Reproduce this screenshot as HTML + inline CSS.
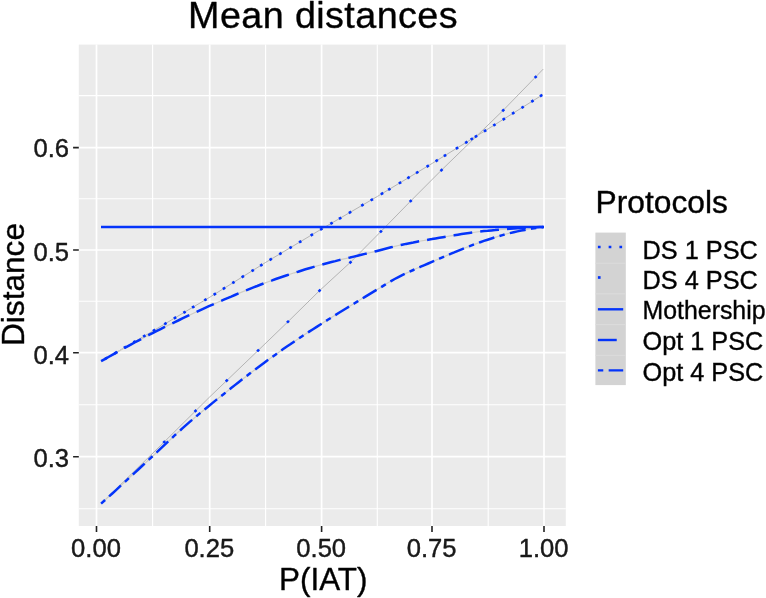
<!DOCTYPE html>
<html><head><meta charset="utf-8"><title>Mean distances</title>
<style>html,body{margin:0;padding:0;background:#fff}svg{display:block}</style></head>
<body>
<svg width="766" height="598" viewBox="0 0 766 598" font-family="Liberation Sans, Arial, sans-serif">
<rect width="766" height="598" fill="#fff"/>
<rect x="78.8" y="44.6" width="487.0" height="481.4" fill="#ebebeb"/>
<path d="M152.6 44.6V526.0M265.6 44.6V526.0M377.3 44.6V526.0M488.2 44.6V526.0M78.8 508.7H565.8M78.8 404.7H565.8M78.8 301.3H565.8M78.8 198.8H565.8M78.8 95.6H565.8" stroke="#fff" stroke-width="1.1" fill="none"/>
<path d="M96.5 44.6V526.0M209.7 44.6V526.0M321.6 44.6V526.0M432.0 44.6V526.0M544.0 44.6V526.0M78.8 456.7H565.8M78.8 352.7H565.8M78.8 250.0H565.8M78.8 147.6H565.8" stroke="#fff" stroke-width="1.7" fill="none"/>
<path d="M101.0 361.3L152.6 331.2L210.1 297.0L265.7 262.4L322.1 228.7L377.6 196.3L432.7 163.1L488.1 128.9L543.0 94.5" stroke="#b4b4b4" stroke-width="1" fill="none"/>
<path d="M101.2 503.6L164.2 442.0L209.4 397.2L258.1 350.5L287.9 321.8L319.6 290.6L350.4 262.3L380.9 231.5L410.7 201.0L441.5 170.1L503.2 110.3L535.6 77.0L543.2 69.1" stroke="#b4b4b4" stroke-width="1" fill="none"/>
<path d="M101.1 361.2L104.8 359.1L108.5 357.0L112.3 354.9L116.0 352.8L119.7 350.7L123.4 348.6L127.1 346.6L130.8 344.6L134.6 342.5L138.3 340.6L142.0 338.6L145.7 336.7L149.4 334.7L153.1 332.8L156.9 330.9L160.6 329.1L164.3 327.2L168.0 325.4L171.7 323.6L175.4 321.8L179.2 320.0L182.9 318.2L186.6 316.4L190.3 314.7L194.0 313.0L197.7 311.3L201.5 309.6L205.2 307.9L208.9 306.2L212.6 304.6L216.3 303.0L220.0 301.3L223.8 299.7L227.5 298.1L231.2 296.6L234.9 295.0L238.6 293.4L242.3 291.9L246.1 290.4L249.8 288.9L253.5 287.4L257.2 286.0L260.9 284.5L264.6 283.1L268.4 281.7L272.1 280.4L275.8 279.0L279.5 277.7L283.2 276.5L286.9 275.3L290.7 274.0L294.4 272.8L298.1 271.7L301.8 270.5L305.5 269.3L309.2 268.2L313.0 267.1L316.7 266.0L320.4 265.0L324.1 264.0L327.8 263.0L331.5 262.0L335.3 261.1L339.0 260.1L342.7 259.2L346.4 258.3L350.1 257.5L353.8 256.6L357.6 255.7L361.3 254.8L365.0 253.9L368.7 253.0L372.4 252.1L376.1 251.2L379.9 250.2L383.6 249.2L387.3 248.2L391.0 247.3L394.7 246.4L398.4 245.5L402.2 244.7L405.9 243.9L409.6 243.2L413.3 242.5L417.0 241.7L420.7 241.0L424.5 240.4L428.2 239.7L431.9 239.1L435.6 238.4L439.3 237.8L443.0 237.2L446.8 236.5L450.5 235.9L454.2 235.3L457.9 234.7L461.6 234.1L465.3 233.5L469.1 233.0L472.8 232.5L476.5 232.0L480.2 231.5L483.9 231.1L487.6 230.8L491.4 230.4L495.1 230.1L498.8 229.7L502.5 229.4L506.2 229.1L509.9 228.8L513.7 228.6L517.4 228.3L521.1 228.0L524.8 227.8L528.5 227.6L532.2 227.4L536.0 227.3L539.7 227.1L543.4 227.0" stroke="#cfcdc4" stroke-width="1.2" fill="none"/>
<path d="M101.1 503.6L104.8 500.3L108.5 496.9L112.3 493.5L116.0 490.1L119.7 486.6L123.4 483.2L127.1 479.8L130.8 476.4L134.6 472.9L138.3 469.5L142.0 466.0L145.7 462.6L149.4 459.2L153.1 455.7L156.9 452.2L160.6 448.7L164.3 445.2L168.0 441.7L171.7 438.2L175.4 434.7L179.2 431.3L182.9 427.9L186.6 424.6L190.3 421.4L194.0 418.3L197.7 415.1L201.5 412.0L205.2 409.0L208.9 406.0L212.6 402.9L216.3 399.9L220.0 396.9L223.8 394.0L227.5 391.0L231.2 388.1L234.9 385.1L238.6 382.2L242.3 379.3L246.1 376.5L249.8 373.6L253.5 370.8L257.2 368.0L260.9 365.2L264.6 362.5L268.4 359.7L272.1 357.0L275.8 354.4L279.5 351.7L283.2 349.1L286.9 346.5L290.7 344.0L294.4 341.4L298.1 338.9L301.8 336.5L305.5 334.0L309.2 331.6L313.0 329.2L316.7 326.9L320.4 324.5L324.1 322.1L327.8 319.8L331.5 317.5L335.3 315.1L339.0 312.8L342.7 310.5L346.4 308.2L350.1 306.0L353.8 303.7L357.6 301.4L361.3 299.1L365.0 296.9L368.7 294.6L372.4 292.4L376.1 290.1L379.9 287.9L383.6 285.6L387.3 283.3L391.0 281.1L394.7 279.0L398.4 277.1L402.2 275.2L405.9 273.4L409.6 271.7L413.3 270.0L417.0 268.3L420.7 266.7L424.5 265.1L428.2 263.5L431.9 261.9L435.6 260.3L439.3 258.7L443.0 257.1L446.8 255.5L450.5 253.9L454.2 252.4L457.9 250.8L461.6 249.3L465.3 247.8L469.1 246.4L472.8 244.9L476.5 243.6L480.2 242.2L483.9 240.9L487.6 239.7L491.4 238.5L495.1 237.3L498.8 236.2L502.5 235.1L506.2 234.0L509.9 233.1L513.7 232.2L517.4 231.4L521.1 230.6L524.8 229.9L528.5 229.2L532.2 228.6L536.0 228.0L539.7 227.5L543.4 227.0" stroke="#cfcdc4" stroke-width="1.2" fill="none"/>
<path d="M104.83 359.06L107.17 357.70M114.33 353.52L116.67 352.16M123.83 347.98L126.17 346.62M133.33 342.44L135.67 341.08M143.13 336.72L145.47 335.36M152.84 331.06L155.16 329.68M164.24 324.28L166.56 322.90M173.84 318.57L176.16 317.19M183.34 312.92L185.66 311.54M192.04 307.74L194.36 306.36M204.24 300.49L206.56 299.11M213.65 294.79L215.95 293.36M222.85 289.06L225.15 287.64M232.25 283.21L234.55 281.79M241.65 277.36L243.95 275.94M251.55 271.20L253.85 269.78M260.15 265.85L262.45 264.42M269.54 260.10L271.86 258.72M279.24 254.31L281.56 252.92M289.44 248.21L291.76 246.83M299.04 242.48L301.36 241.09M310.64 235.55L312.96 234.16M320.14 229.87L322.46 228.49M330.33 223.89L332.67 222.53M338.93 218.87L341.27 217.51M348.83 213.09L351.17 211.73M361.23 205.85L363.57 204.49M370.63 200.37L372.97 199.01M380.84 194.35L383.16 192.95M388.14 189.95L390.46 188.55M398.84 183.50L401.16 182.11M407.34 178.38L409.66 176.98M416.04 173.14L418.36 171.74M426.54 166.81L428.86 165.42M435.55 161.34L437.85 159.92M443.85 156.22L446.15 154.80M455.85 148.81L458.15 147.39M465.15 143.07L467.45 141.65M470.65 139.67L472.95 138.25M474.85 137.08L477.15 135.66M483.95 131.46L486.25 130.04M493.26 125.67L495.54 124.24M502.66 119.78L504.94 118.35M512.06 113.89L514.34 112.46M521.46 108.00L523.74 106.57M531.26 101.86L533.54 100.43M539.96 96.41L542.24 94.97" stroke="#0434FA" stroke-width="2.6" fill="none"/>
<path d="M163.23 442.94L165.17 441.06M194.54 411.93L196.46 410.03M225.78 381.50L227.72 379.63M257.13 351.43L259.07 349.57M286.98 322.69L288.92 320.81M318.59 291.60L320.51 289.70M349.46 263.21L351.44 261.39M379.95 232.46L381.85 230.54M409.76 201.97L411.64 200.03M440.55 171.06L442.45 169.14M502.23 111.24L504.17 109.36M534.71 77.97L536.59 76.03" stroke="#0434FA" stroke-width="2.6" fill="none"/>
<path d="M101 227.0H544" stroke="#0434FA" stroke-width="2.4" fill="none"/>
<path d="M101.1 361.2L104.8 359.1L108.5 357.0L112.3 354.9L116.0 352.8L119.7 350.7L123.4 348.6L127.1 346.6L130.8 344.6L134.6 342.5L138.3 340.6L142.0 338.6L145.7 336.7L149.4 334.7L153.1 332.8L156.9 330.9L160.6 329.1L164.3 327.2L168.0 325.4L171.7 323.6L175.4 321.8L179.2 320.0L182.9 318.2L186.6 316.4L190.3 314.7L194.0 313.0L197.7 311.3L201.5 309.6L205.2 307.9L208.9 306.2L212.6 304.6L216.3 303.0L220.0 301.3L223.8 299.7L227.5 298.1L231.2 296.6L234.9 295.0L238.6 293.4L242.3 291.9L246.1 290.4L249.8 288.9L253.5 287.4L257.2 286.0L260.9 284.5L264.6 283.1L268.4 281.7L272.1 280.4L275.8 279.0L279.5 277.7L283.2 276.5L286.9 275.3L290.7 274.0L294.4 272.8L298.1 271.7L301.8 270.5L305.5 269.3L309.2 268.2L313.0 267.1L316.7 266.0L320.4 265.0L324.1 264.0L327.8 263.0L331.5 262.0L335.3 261.1L339.0 260.1L342.7 259.2L346.4 258.3L350.1 257.5L353.8 256.6L357.6 255.7L361.3 254.8L365.0 253.9L368.7 253.0L372.4 252.1L376.1 251.2L379.9 250.2L383.6 249.2L387.3 248.2L391.0 247.3L394.7 246.4L398.4 245.5L402.2 244.7L405.9 243.9L409.6 243.2L413.3 242.5L417.0 241.7L420.7 241.0L424.5 240.4L428.2 239.7L431.9 239.1L435.6 238.4L439.3 237.8L443.0 237.2L446.8 236.5L450.5 235.9L454.2 235.3L457.9 234.7L461.6 234.1L465.3 233.5L469.1 233.0L472.8 232.5L476.5 232.0L480.2 231.5L483.9 231.1L487.6 230.8L491.4 230.4L495.1 230.1L498.8 229.7L502.5 229.4L506.2 229.1L509.9 228.8L513.7 228.6L517.4 228.3L521.1 228.0L524.8 227.8L528.5 227.6L532.2 227.4L536.0 227.3L539.7 227.1L543.4 227.0" stroke="#0434FA" stroke-width="2.5" stroke-dasharray="18.83 8.07" fill="none"/>
<path d="M101.1 503.6L104.8 500.3L108.5 496.9L112.3 493.5L116.0 490.1L119.7 486.6L123.4 483.2L127.1 479.8L130.8 476.4L134.6 472.9L138.3 469.5L142.0 466.0L145.7 462.6L149.4 459.2L153.1 455.7L156.9 452.2L160.6 448.7L164.3 445.2L168.0 441.7L171.7 438.2L175.4 434.7L179.2 431.3L182.9 427.9L186.6 424.6L190.3 421.4L194.0 418.3L197.7 415.1L201.5 412.0L205.2 409.0L208.9 406.0L212.6 402.9L216.3 399.9L220.0 396.9L223.8 394.0L227.5 391.0L231.2 388.1L234.9 385.1L238.6 382.2L242.3 379.3L246.1 376.5L249.8 373.6L253.5 370.8L257.2 368.0L260.9 365.2L264.6 362.5L268.4 359.7L272.1 357.0L275.8 354.4L279.5 351.7L283.2 349.1L286.9 346.5L290.7 344.0L294.4 341.4L298.1 338.9L301.8 336.5L305.5 334.0L309.2 331.6L313.0 329.2L316.7 326.9L320.4 324.5L324.1 322.1L327.8 319.8L331.5 317.5L335.3 315.1L339.0 312.8L342.7 310.5L346.4 308.2L350.1 306.0L353.8 303.7L357.6 301.4L361.3 299.1L365.0 296.9L368.7 294.6L372.4 292.4L376.1 290.1L379.9 287.9L383.6 285.6L387.3 283.3L391.0 281.1L394.7 279.0L398.4 277.1L402.2 275.2L405.9 273.4L409.6 271.7L413.3 270.0L417.0 268.3L420.7 266.7L424.5 265.1L428.2 263.5L431.9 261.9L435.6 260.3L439.3 258.7L443.0 257.1L446.8 255.5L450.5 253.9L454.2 252.4L457.9 250.8L461.6 249.3L465.3 247.8L469.1 246.4L472.8 244.9L476.5 243.6L480.2 242.2L483.9 240.9L487.6 239.7L491.4 238.5L495.1 237.3L498.8 236.2L502.5 235.1L506.2 234.0L509.9 233.1L513.7 232.2L517.4 231.4L521.1 230.6L524.8 229.9L528.5 229.2L532.2 228.6L536.0 228.0L539.7 227.5L543.4 227.0" stroke="#0434FA" stroke-width="2.5" stroke-dasharray="5.38 5.38 16.14 5.38" fill="none"/>
<path d="M73.1 456.7H78.8M73.1 352.7H78.8M73.1 250.0H78.8M73.1 147.6H78.8M96.5 526.0V531.9M209.7 526.0V531.9M321.6 526.0V531.9M432.0 526.0V531.9M544.0 526.0V531.9" stroke="#222" stroke-width="1.6" fill="none"/>
<g stroke="#111" stroke-width="0.4" stroke-linejoin="round">
<text x="69" y="466.5" font-size="25.6" text-anchor="end" fill="#1a1a1a">0.3</text>
<text x="69" y="363.8" font-size="25.6" text-anchor="end" fill="#1a1a1a">0.4</text>
<text x="69" y="261.0" font-size="25.6" text-anchor="end" fill="#1a1a1a">0.5</text>
<text x="69" y="156.8" font-size="25.6" text-anchor="end" fill="#1a1a1a">0.6</text>
<text x="96.0" y="556.8" font-size="25.6" text-anchor="middle" fill="#1a1a1a">0.00</text>
<text x="209.3" y="556.8" font-size="25.6" text-anchor="middle" fill="#1a1a1a">0.25</text>
<text x="321.2" y="556.8" font-size="25.6" text-anchor="middle" fill="#1a1a1a">0.50</text>
<text x="431.6" y="556.8" font-size="25.6" text-anchor="middle" fill="#1a1a1a">0.75</text>
<text x="543.6" y="556.8" font-size="25.6" text-anchor="middle" fill="#1a1a1a">1.00</text>
<text x="323.0" y="28.1" font-size="37.7" letter-spacing="0.42" text-anchor="middle" fill="#000">Mean distances</text>
<text x="323.3" y="590.3" font-size="31.4" text-anchor="middle" fill="#000">P(IAT)</text>
<text transform="translate(23.7 284.5) rotate(-90)" font-size="31.6" text-anchor="middle" fill="#000">Distance</text>
<text x="595.6" y="213.2" font-size="31.75" fill="#000">Protocols</text>
</g>
<rect x="595.4" y="232.6" width="30.4" height="152.5" fill="#d3d3d3"/>
<path d="M595.4 263.2H625.8" stroke="#dcdcdc" stroke-width="1"/>
<path d="M595.4 293.9H625.8" stroke="#dcdcdc" stroke-width="1"/>
<path d="M595.4 324.6H625.8" stroke="#dcdcdc" stroke-width="1"/>
<path d="M595.4 355.3H625.8" stroke="#dcdcdc" stroke-width="1"/>
<path d="M597.9 247.0H623.2" stroke="#0434FA" stroke-width="2.7" stroke-dasharray="2.69 8.07" fill="none"/>
<text x="642.6" y="258.5" font-size="25.3" fill="#000" stroke="#111" stroke-width="0.4">DS 1 PSC</text>
<path d="M597.9 277.5H623.2" stroke="#0434FA" stroke-width="2.7" stroke-dasharray="2.69 40.35" fill="none"/>
<text x="642.6" y="288.9" font-size="25.3" fill="#000" stroke="#111" stroke-width="0.4">DS 4 PSC</text>
<path d="M597.9 309.3H623.2" stroke="#0434FA" stroke-width="2.4" fill="none"/>
<text x="642.6" y="319.4" font-size="24.85" fill="#000" stroke="#111" stroke-width="0.4">Mothership</text>
<path d="M597.9 340.0H623.2" stroke="#0434FA" stroke-width="2.4" stroke-dasharray="18.83 8.07" fill="none"/>
<text x="642.6" y="350.1" font-size="25.25" fill="#000" stroke="#111" stroke-width="0.4">Opt 1 PSC</text>
<path d="M597.9 370.4H623.2" stroke="#0434FA" stroke-width="2.4" stroke-dasharray="5.38 5.38 16.14 5.38" fill="none"/>
<text x="642.6" y="380.5" font-size="25.25" fill="#000" stroke="#111" stroke-width="0.4">Opt 4 PSC</text>
</svg>
</body></html>
